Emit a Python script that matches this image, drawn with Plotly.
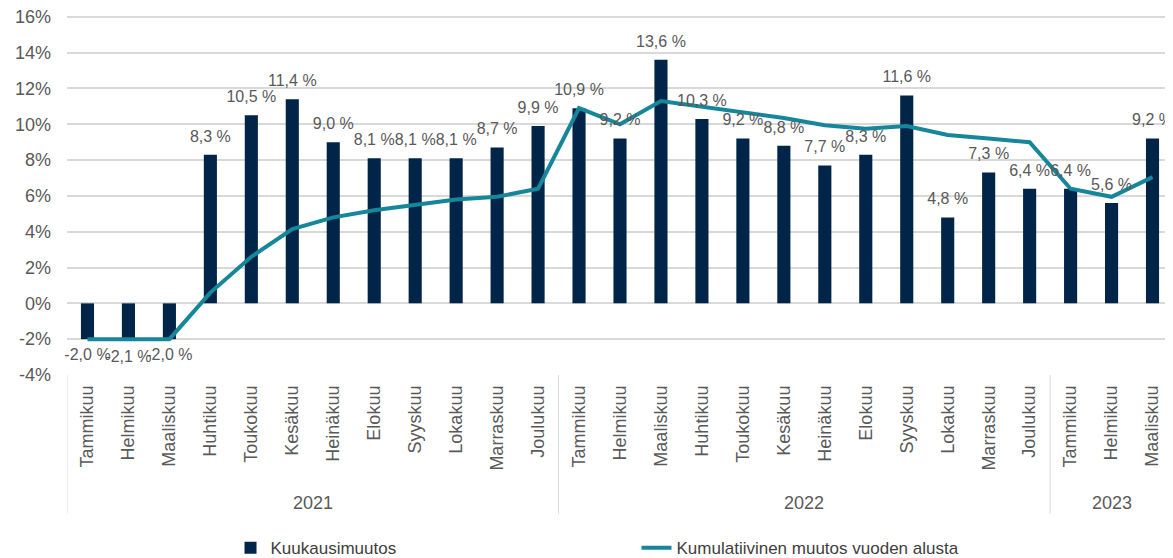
import plotly.graph_objects as go

years = ["2021"] * 12 + ["2022"] * 12 + ["2023"] * 3
months = ["Tammikuu", "Helmikuu", "Maaliskuu", "Huhtikuu", "Toukokuu", "Kesäkuu",
          "Heinäkuu", "Elokuu", "Syyskuu", "Lokakuu", "Marraskuu", "Joulukuu"] * 2 + \
         ["Tammikuu", "Helmikuu", "Maaliskuu"]

monthly = [-2.0, -2.1, -2.0, 8.3, 10.5, 11.4, 9.0, 8.1, 8.1, 8.1, 8.7, 9.9,
           10.9, 9.2, 13.6, 10.3, 9.2, 8.8, 7.7, 8.3, 11.6, 4.8, 7.3, 6.4,
           6.4, 5.6, 9.2]
cumulative = [-2.0, -2.0, -2.0, 0.6, 2.6, 4.15, 4.8, 5.2, 5.5, 5.8, 5.95, 6.4,
              10.9, 10.0, 11.3, 11.0, 10.7, 10.35, 9.95, 9.75, 9.9, 9.4, 9.2, 9.0,
              6.4, 5.95, 7.05]

y_ticks = [-4, -2, 0, 2, 4, 6, 8, 10, 12, 14, 16]
y_tick_text = [f"{v}%" for v in y_ticks]

idx = list(range(len(months)))
labels = [f"{v:.1f} %".replace(".", ",") for v in monthly]

GRID = "#d9d9d9"
TXT = "#595959"

fig = go.Figure()
fig.add_trace(go.Bar(
    x=idx, y=monthly, name="Kuukausimuutos",
    marker=dict(color="#002548", line=dict(width=0)),
    width=0.32,
))
fig.add_trace(go.Scatter(
    x=idx, y=cumulative, name="Kumulatiivinen muutos vuoden alusta",
    mode="lines", line=dict(color="#16869A", width=4),
))
# data labels
fig.add_trace(go.Scatter(
    x=idx, y=monthly, mode="markers+text", text=labels,
    textposition=["top center" if v >= 0 else "bottom center" for v in monthly],
    marker=dict(size=13, opacity=0),
    textfont=dict(family="Liberation Sans, Arial", size=16, color=TXT),
    showlegend=False, hoverinfo="skip", cliponaxis=False,
))

# year groups: dividers and labels
shapes = []
annotations = []
groups = []
start = 0
for i in range(1, len(years) + 1):
    if i == len(years) or years[i] != years[start]:
        groups.append((years[start], start, i - 1))
        start = i
bounds = [g[1] - 0.5 for g in groups] + [groups[-1][2] + 0.5]
for b in bounds:
    shapes.append(dict(type="line", xref="x", yref="paper", x0=b, x1=b,
                       y0=0, y1=-0.385, line=dict(color=GRID, width=1)))
for name, s, e in groups:
    annotations.append(dict(x=(s + e) / 2, xref="x", y=-0.355, yref="paper",
                            text=name, showarrow=False, yanchor="middle",
                            font=dict(family="Liberation Sans, Arial", size=18, color=TXT)))

fig.update_layout(
    width=1165, height=550,
    margin=dict(l=59, r=0, t=7, b=183),
    plot_bgcolor="white", paper_bgcolor="white",
    showlegend=True,
    legend=dict(orientation="h", xref="container", yref="container",
                x=0.191, xanchor="left", y=0.018, yanchor="middle",
                entrywidth=361, entrywidthmode="pixels",
                font=dict(family="Liberation Sans, Arial", size=17, color="#404040")),
    shapes=shapes, annotations=annotations,
)
fig.update_yaxes(
    range=[-4, 16.1], tickvals=y_ticks, ticktext=y_tick_text,
    showgrid=True, gridcolor=GRID, gridwidth=1.5,
    zeroline=False, automargin=False, ticklabelstandoff=15,
    ticklabeloverflow="allow",
    tickfont=dict(family="Liberation Sans, Arial", size=18, color=TXT),
)
fig.update_xaxes(
    range=[-0.5, len(months) - 0.5],
    tickvals=idx, ticktext=months,
    tickangle=-90, automargin=False,
    showgrid=False, zeroline=False,
    showline=False,
    ticks="", ticklabelstandoff=6,
    tickfont=dict(family="Liberation Sans, Arial", size=18, color=TXT),
)

fig.write_html("out.html")
